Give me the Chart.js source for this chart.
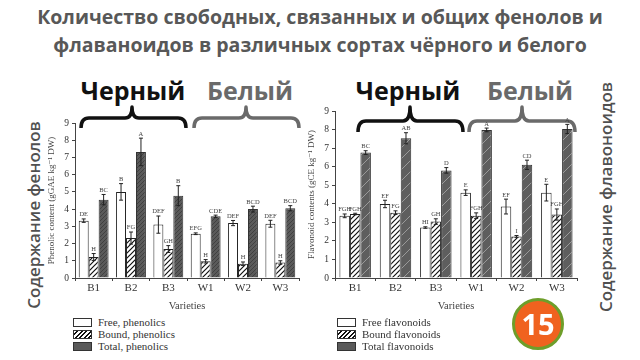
<!DOCTYPE html>
<html>
<head>
<meta charset="utf-8">
<script src="https://cdn.jsdelivr.net/npm/chart.js@4"></script>
<style>
  html, body { margin: 0; padding: 0; background: #fff; }
  #page { position: relative; width: 640px; height: 360px; overflow: hidden; font-family: "Open Sans", sans-serif; }
  .abs { position: absolute; white-space: nowrap; }
  .title { left: 0; width: 640px; text-align: center; font-weight: 700; font-size: 19.5px; color: #585858; }
  .group { font-weight: 700; font-size: 25px; transform: translate(-50%, -50%); }
  .vert { font-weight: 600; font-size: 17px; color: #505050; transform: translate(-50%, -50%) rotate(-90deg); }
  canvas { position: absolute; }
  .legend { position: absolute; font-family: "Liberation Serif", serif; font-size: 11px; color: #333; }
  .legend div { height: 12px; line-height: 12px; display: flex; align-items: center; }
  .legend span.sw { display: inline-block; width: 17px; height: 7px; border: 1px solid #333; margin-right: 6px; }
  #badge { position: absolute; left: 512px; top: 298px; width: 46px; height: 46px; border-radius: 50%;
           background: #f0621f; border: 3px solid #6e9e2a; color: #fff; font-weight: 700; font-size: 29px;
           text-align: center; line-height: 46px; font-family: "Open Sans", sans-serif; }
</style>
</head>
<body>
<div id="page">
  <div class="abs title" style="top:3px;">Количество свободных, связанных и общих фенолов и</div>
  <div class="abs title" style="top:31px;">флаваноидов в различных сортах чёрного и белого</div>

  <div class="abs group" style="left:133px; top:90px; color:#111;">Черный</div>
  <div class="abs group" style="left:250px; top:90px; color:#6a6a6a;">Белый</div>
  <div class="abs group" style="left:408px; top:90px; color:#111;">Черный</div>
  <div class="abs group" style="left:530px; top:90px; color:#6a6a6a;">Белый</div>

  <svg class="abs" style="left:0; top:0;" width="640" height="360">
    <g fill="none" stroke-width="3.5" stroke-linejoin="round">
      <path stroke="#111" d="M81,128 Q81,118 89,118 L125,118 Q132,118 132,107 Q132,118 139,118 L178,118 Q186,118 186,128"/>
      <path stroke="#6a6a6a" d="M194,128 Q194,118 202,118 L239,118 Q246,118 246,107 Q246,118 253,118 L291,118 Q299,118 299,128"/>
      <path stroke="#111" d="M358,132 Q358,121 366,121 L403,121 Q410,121 410,107 Q410,121 417,121 L455,121 Q463,121 463,132"/>
      <path stroke="#6a6a6a" d="M469,132 Q469,121 477,121 L515,121 Q522,121 522,107 Q522,121 529,121 L567,121 Q575,121 575,132"/>
    </g>
  </svg>

  <div class="abs vert" style="left:33px; top:215px;">Содержание фенолов</div>
  <div class="abs vert" style="left:605px; top:197px;">Содержание флавоноидов</div>

  <canvas id="phenChart" style="left:40px; top:105px;" width="270" height="210"></canvas>
  <canvas id="flavChart" style="left:300px; top:95px;" width="285" height="220"></canvas>

  <div class="legend" id="phenLegend" style="left:73px; top:316px;"></div>
  <div class="legend" id="flavLegend" style="left:337px; top:316px;"></div>

  <div id="badge">15</div>
</div>

<script>
const categories = ["B1", "B2", "B3", "W1", "W2", "W3"];

// phenolics, gGAE kg-1 DW
const phenFree = [3.33, 5.0, 3.1, 2.57, 3.19, 3.15];
const phenFreeErr = [0.1, 0.48, 0.5, 0.05, 0.15, 0.2];
const phenBound = [1.22, 2.32, 1.68, 0.97, 0.83, 0.9];
const phenBoundErr = [0.2, 0.35, 0.2, 0.1, 0.1, 0.1];
const phenTotal = [4.55, 7.32, 4.78, 3.58, 4.0, 4.05];
const phenTotalErr = [0.3, 0.8, 0.58, 0.07, 0.17, 0.15];
const phenFreeLetters = ["DE", "B", "DEF", "EFG", "DEF", "DEF"];
const phenBoundLetters = ["H", "FG", "GH", "H", "H", "H"];
const phenTotalLetters = ["BC", "A", "B", "CDE", "BCD", "BCD"];

// flavonoids, gCE kg-1 DW
const flavFree = [3.35, 3.99, 2.72, 4.6, 3.85, 4.6];
const flavFreeErr = [0.1, 0.2, 0.04, 0.15, 0.4, 0.45];
const flavBound = [3.45, 3.52, 3.04, 3.36, 2.24, 3.42];
const flavBoundErr = [0.04, 0.1, 0.15, 0.15, 0.05, 0.3];
const flavTotal = [6.76, 7.53, 5.8, 7.98, 6.1, 8.03];
const flavTotalErr = [0.1, 0.3, 0.15, 0.1, 0.25, 0.25];
const flavFreeLetters = ["FGH", "EF", "HI", "E", "EF", "E"];
const flavBoundLetters = ["FGH", "FG", "GH", "FGH", "I", "FGH"];
const flavTotalLetters = ["BC", "AB", "D", "A", "CD", "A"];

const yTicks = [0, 1, 2, 3, 4, 5, 6, 7, 8, 9];

function makeHatch(bg, fg, size, lw) {
    const c = document.createElement("canvas");
    c.width = size;
    c.height = size;
    const g = c.getContext("2d");
    g.fillStyle = bg;
    g.fillRect(0, 0, size, size);
    g.strokeStyle = fg;
    g.lineWidth = lw;
    g.beginPath();
    g.moveTo(0, size); g.lineTo(size, 0);
    g.moveTo(-2, 2); g.lineTo(2, -2);
    g.moveTo(size - 2, size + 2); g.lineTo(size + 2, size - 2);
    g.stroke();
    return g.createPattern(c, "repeat");
}

const serif = "'Liberation Serif', 'DejaVu Serif', serif";

/* error bars + significance letters, drawn through the scales */
const errorBarPlugin = {
    id: "errorBars",
    afterDatasetsDraw(chart) {
        const ctx = chart.ctx;
        const y = chart.scales.y;
        ctx.save();
        chart.data.datasets.forEach((ds, i) => {
            const meta = chart.getDatasetMeta(i);
            meta.data.forEach((bar, j) => {
                const v = ds.data[j];
                const e = ds.errors[j];
                const top = y.getPixelForValue(v + e);
                const bot = y.getPixelForValue(v - e);
                ctx.strokeStyle = "#222";
                ctx.lineWidth = 1;
                ctx.beginPath();
                ctx.moveTo(bar.x, top); ctx.lineTo(bar.x, bot);
                ctx.moveTo(bar.x - 2, top); ctx.lineTo(bar.x + 2, top);
                ctx.moveTo(bar.x - 2, bot); ctx.lineTo(bar.x + 2, bot);
                ctx.stroke();
                ctx.fillStyle = "#444";
                ctx.font = "6.5px " + serif;
                ctx.textAlign = "center";
                ctx.textBaseline = "bottom";
                ctx.fillText(ds.letters[j], bar.x, top - 1);
            });
        });
        ctx.restore();
    }
};

function makeChart(id, sets, yTitle, catPct, pad) {
    const ctx = document.getElementById(id).getContext("2d");
    return new Chart(ctx, {
        type: "bar",
        data: {
            labels: categories,
            datasets: sets.map(s => ({
                label: s.label,
                data: s.data,
                errors: s.errors,
                letters: s.letters,
                backgroundColor: s.fill,
                borderColor: s.border,
                borderWidth: 1,
                barPercentage: 1,
                categoryPercentage: catPct
            }))
        },
        options: {
            responsive: false,
            animation: false,
            layout: { padding: pad },
            plugins: { legend: { display: false }, tooltip: { enabled: false } },
            scales: {
                x: {
                    afterFit: s => { s.height = 37; },
                    grid: { display: true, drawOnChartArea: false, tickLength: 3, color: "#444" },
                    border: { color: "#444" },
                    ticks: { color: "#333", font: { family: serif, size: 11 }, padding: 1 },
                    title: { display: true, text: "Varieties", color: "#444", font: { family: serif, size: 10.5 }, padding: 2 }
                },
                y: {
                    min: 0,
                    max: 9,
                    afterFit: s => { s.width = 35; },
                    afterBuildTicks: s => { s.ticks = yTicks.map(v => ({ value: v })); },
                    grid: { display: true, drawOnChartArea: false, tickLength: 3, color: "#444" },
                    border: { color: "#444" },
                    ticks: { color: "#333", font: { family: serif, size: 9.5 }, padding: 3 },
                    title: { display: true, text: yTitle, color: "#444", font: { family: serif, size: 9 }, padding: { top: 6, bottom: 0 } }
                }
            }
        },
        plugins: [errorBarPlugin]
    });
}

const hatchWhite = makeHatch("#ffffff", "#111", 5, 1.2);
const darkLeft = makeHatch("#5a5a5a", "#404040", 4, 1);
const darkRight = makeHatch("#5e5e5e", "#9a9a9a", 11, 1);

const phenSets = [
    { label: "Free, phenolics", data: phenFree, errors: phenFreeErr, letters: phenFreeLetters, fill: "#ffffff", border: "#222" },
    { label: "Bound, phenolics", data: phenBound, errors: phenBoundErr, letters: phenBoundLetters, fill: hatchWhite, border: "#222" },
    { label: "Total, phenolics", data: phenTotal, errors: phenTotalErr, letters: phenTotalLetters, fill: darkLeft, border: "#333" }
];
const flavSets = [
    { label: "Free flavonoids", data: flavFree, errors: flavFreeErr, letters: flavFreeLetters, fill: "#ffffff", border: "#222" },
    { label: "Bound flavonoids", data: flavBound, errors: flavBoundErr, letters: flavBoundLetters, fill: hatchWhite, border: "#222" },
    { label: "Total flavonoids", data: flavTotal, errors: flavTotalErr, letters: flavTotalLetters, fill: darkRight, border: "#333" }
];

makeChart("phenChart", phenSets, "Phenolic content (gGAE kg\u207B\u00B9 DW)", 0.8, { top: 18, right: 11, left: 0, bottom: 0 });
makeChart("flavChart", flavSets, "Flavonoid contents (gCE kg\u207B\u00B9 DW)", 0.78, { top: 16, right: 8, left: 0, bottom: 0 });

/* html legends */
const swatchCss = [
    "background:#fff;",
    "background:repeating-linear-gradient(135deg,#fff 0 2px,#111 2px 3.2px);",
    "background:#5a5a5a;"
];
function fillLegend(id, sets) {
    const el = document.getElementById(id);
    sets.forEach((s, i) => {
        const row = document.createElement("div");
        row.innerHTML = '<span class="sw" style="' + swatchCss[i] + '"></span>' + s.label;
        el.appendChild(row);
    });
}
fillLegend("phenLegend", phenSets);
fillLegend("flavLegend", flavSets);
</script>
</body>
</html>
